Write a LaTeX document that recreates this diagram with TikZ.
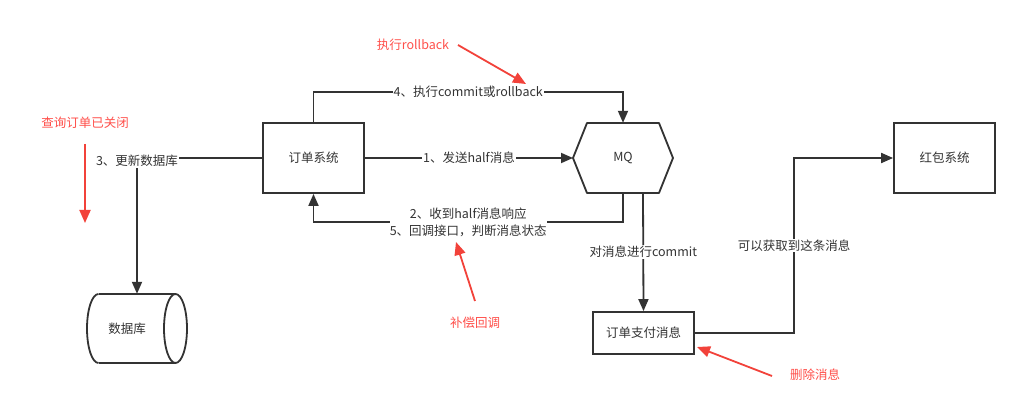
\documentclass[tikz,border=0pt]{standalone}
\usepackage{fontspec}
\setmainfont{Noto Sans CJK SC}
\usetikzlibrary{arrows.meta,calc}
\definecolor{ink}{HTML}{333333}
\definecolor{ann}{HTML}{F2423A}
\definecolor{anntext}{HTML}{FF4F4A}
\begin{document}
\begin{tikzpicture}[x=1pt,y=-1pt, font=\fontsize{12.5}{17}\selectfont,
  box/.style={draw=ink, line width=1.8pt, text=ink, minimum width=101pt, minimum height=70pt, inner sep=0pt},
  conn/.style={draw=ink, line width=1.8pt, -{Triangle[length=12pt,width=10pt]}},
  lbl/.style={fill=white, text=ink, inner sep=1pt},
  note/.style={text=anntext},
  noteline/.style={draw=ann, line width=1.8pt, -{Triangle[length=13pt,width=11pt]}}]
\fill[white] (0,0) rectangle (1020,419);
\useasboundingbox (0,0) rectangle (1020,419);

% nodes
\node[box] (order) at (313.5,158) {订单系统};
\node[minimum width=100pt, minimum height=70pt, inner sep=0pt, text=ink] (mq) at (623,158) {MQ};
\draw[ink, line width=1.8pt, line join=round] (573,158) -- (587,123) -- (659,123) -- (673,158) -- (659,193) -- (587,193) -- cycle;
\node[box] (red) at (944.5,158) {红包系统};
\node[box, minimum height=42pt] (pay) at (643.5,333) {订单支付消息};

% database cylinder
\node[minimum width=100pt, minimum height=69pt, inner sep=0pt] (db) at (137,328.5) {};
\draw[ink, line width=1.8pt] (98.5,294) arc[start angle=90, end angle=270, x radius=11.5pt, y radius=34.5pt];
\draw[ink, line width=1.8pt] (98.5,294) -- (175.5,294);
\draw[ink, line width=1.8pt] (98.5,363) -- (175.5,363);
\draw[ink, line width=1.8pt, fill=white] (175.5,328.5) ellipse [x radius=11.5pt, y radius=34.5pt];
\node[text=ink] (dblabel) at (127,328.5) {数据库};

% connectors
\draw[conn] (order.north) -- (313.5,92) -- node[lbl]{4、执行commit或rollback} (623,92) -- (mq.north);
\draw[conn] (order.east) -- node[lbl]{1、发送half消息} (573,158);
\draw[conn] (mq.south) -- (623,222) -- node[lbl, align=center, inner sep=0pt]{2、收到half消息响应\\5、回调接口，判断消息状态} (313.5,222) -- (order.south);
\draw[conn] ($(mq.south)+(20,0)$) -- node[lbl]{对消息进行commit} (pay.north);
\draw[conn] (pay.east) -- (794,333) -- node[lbl]{可以获取到这条消息} (794,158) -- (red.west);
\draw[conn] (order.west) -- (137,158) node[lbl, yshift=-3pt]{3、更新数据库} -- (db.north);

% annotations
\node[note] (n1) at (85,123) {查询订单已关闭};
\coordinate (n1a) at (85,144);
\coordinate (n1b) at (85,223);
\draw[noteline] (n1a) -- (n1b);
\node[note] (n2) at (413,45) {执行rollback};
\coordinate (n2a) at (458,45);
\coordinate (n2b) at (526,84);
\draw[noteline] (n2a) -- (n2b);
\node[note] (n3) at (475,323) {补偿回调};
\coordinate (n3a) at (475,301);
\coordinate (n3b) at (456,242);
\draw[noteline] (n3a) -- (n3b);
\node[note] (n4) at (815,375) {删除消息};
\coordinate (n4a) at (772,376);
\coordinate (n4b) at (697,347);
\draw[noteline] (n4a) -- (n4b);
\end{tikzpicture}
\end{document}
